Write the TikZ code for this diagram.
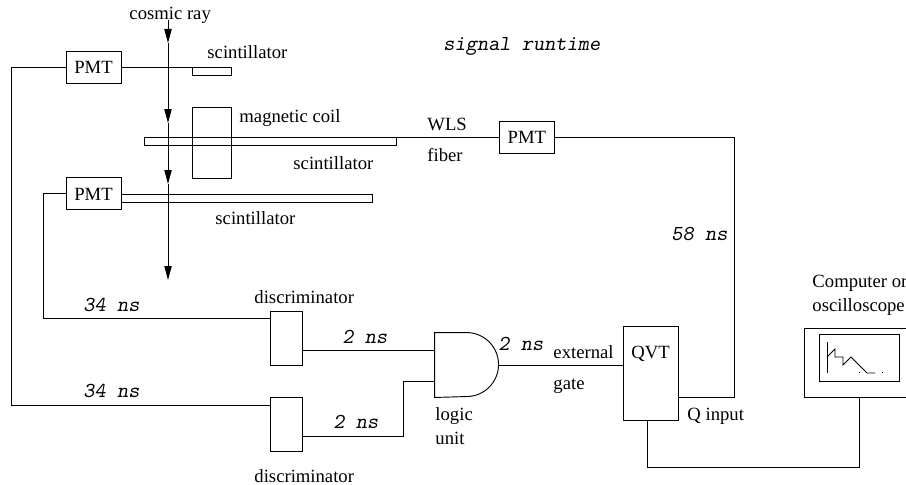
\documentclass[tikz,border=0pt]{standalone}
\usepackage{fontspec}
\setmainfont{Liberation Serif}
\usetikzlibrary{arrows.meta,positioning}

\begin{document}
\begin{tikzpicture}[x=.75pt,y=-.75pt,>={Triangle[length=10.5pt,width=5.5pt]},line width=.7pt,font=\fontsize{14}{16}\selectfont]

    % Define node styles
    \tikzstyle{pmt} = [draw, rectangle, inner sep=0pt, minimum width=41.25pt, minimum height=24pt, text centered]
    \tikzstyle{scint} = [draw, rectangle, inner sep=0pt, minimum height=6pt]
    \tikzstyle{disc} = [draw, rectangle, inner sep=0pt, minimum width=24pt, minimum height=40.5pt]
    \tikzstyle{txt} = [anchor=base west, inner sep=0pt]
    \tikzstyle{timing} = [txt, font=\fontsize{16}{18}\selectfont\ttfamily\slshape]

    \useasboundingbox (0,0) rectangle (906,485);

    % Draw detector nodes
    \node [pmt] (pmtA) at (93.5,67) {PMT};
    \node [pmt, below=70.5pt of pmtA] (pmtB) {PMT};
    \node [scint, minimum width=29.25pt, anchor=north west, xshift=53.25pt] (scintA) at (pmtA.east) {};
    \node [draw, inner sep=0pt, minimum width=29.25pt, minimum height=53.25pt, below=23.25pt of scintA] (coil) {};
    \node [scint, minimum width=189pt, anchor=north west] (scintB) at (144,137) {};
    \node [scint, minimum width=188.25pt, anchor=north west] (scintC) at (pmtB.east) {};
    \node [pmt, right=76.5pt of scintB.north east] (pmtC) {PMT};

    % Draw electronics nodes
    \node [disc] (discA) at (286,338) {};
    \node [disc, below=24pt of discA] (discB) {};
    \node [inner sep=0pt, minimum width=47.25pt, minimum height=48pt] (gate) at (466.5,365) {};
    \node [draw, inner sep=0pt, minimum width=41.25pt, minimum height=70.5pt] (qvt) at (650.5,373) {};
    \node [draw, inner sep=0pt, minimum width=82.5pt, minimum height=51.75pt] (computer) at (859,362.5) {};
    \node [draw, inner sep=0pt, minimum width=60pt, minimum height=35.25pt, anchor=north, below=4.5pt of computer.north] (screen) {};

    % Draw gate outline
    \draw (gate.north west) -- ++(32,0) arc (90:-90:24pt) -- (gate.south west) -- cycle;

    % Define wire corners
    \coordinate (rayA) at (168,20);
    \coordinate (rayB) at (168,43);
    \coordinate (rayC) at (168,123);
    \coordinate (rayD) at (168,184);
    \coordinate (rayE) at (168,280);
    \coordinate (wireA) at (11,405);
    \coordinate (wireB) at (43,318);
    \coordinate (wireC) at (734,397);
    \coordinate (wireD) at (647,467);
    \coordinate (gateA) at (435,350);
    \coordinate (gateB) at (435,381);
    \coordinate (bend) at (403,381);
    \coordinate (discout) at (302,436);

    % Draw arrows
    \draw [->] (rayA) -- (rayB);
    \draw [->] (rayB) -- (rayC);
    \draw [->] (rayC) -- (rayD);
    \draw [->] (rayD) -- (rayE);

    % Draw wires
    \draw (pmtA.east) -- (scintA.north west);
    \draw (scintB.north east) -- (pmtC.west);
    \draw (pmtA.west) -| (wireA) -- (discB.west |- wireA);
    \draw (pmtB.west) -| (wireB) -- (discA.west |- wireB);
    \draw (pmtC.east) -| (wireC) -- (qvt.east |- wireC);
    \draw (discA.east |- gateA) -- (gateA);
    \draw (discout) -| (bend) -- (gateB);
    \draw (gate.east) -- (qvt.west |- gate.east);
    \draw (wireD |- qvt.south) -- (wireD) -| (computer.south);

    % Draw trace on the screen
    \draw (827,342) -- (827,373);
    \draw (827,357) -- (835,349) -- (835,357) -- (843,357) -- (843,365) -- (851,357) -- (867,373) -- (875,373);
    \draw (859,372.5) -- (860,372.5);
    \draw (882,372.5) -- (883,372.5);

    % Draw labels
    \node [txt] (cosmic) at (129,20) {cosmic ray};
    \node [txt] (labelA) at (207,59) {scintillator};
    \node [txt] (labelcoil) at (239,122) {magnetic coil};
    \node [txt] (labelB) at (293,169) {scintillator};
    \node [txt] (labelC) at (215,224) {scintillator};
    \node [txt] (wls) at (427,130) {WLS};
    \node [txt] (fiber) at (427,161) {fiber};
    \node [txt] (discup) at (254,303) {discriminator};
    \node [txt] (discdown) at (254,482) {discriminator};
    \node [txt] (external) at (553,358) {external};
    \node [txt] (gatetext) at (553,389) {gate};
    \node [txt] (logic) at (435,420) {logic};
    \node [txt] (unit) at (435,444) {unit};
    \node [txt] (qvttext) at (631,358) {QVT};
    \node [txt] (qinput) at (687,420) {Q input};
    \node [txt] (computertext) at (812,287) {Computer or};
    \node [txt] (scope) at (812,311) {oscilloscope};

    % Draw signal times
    \node [timing] (runtime) at (443,51) {signal runtime};
    \node [timing] (timeC) at (671,240) {58 ns};
    \node [timing] (timeA) at (83,311) {34 ns};
    \node [timing] (timeB) at (83,397) {34 ns};
    \node [timing] (timeD) at (342,343) {2 ns};
    \node [timing] (timeE) at (333,428) {2 ns};
    \node [timing] (timeF) at (498,350) {2 ns};

\end{tikzpicture}
\end{document}
